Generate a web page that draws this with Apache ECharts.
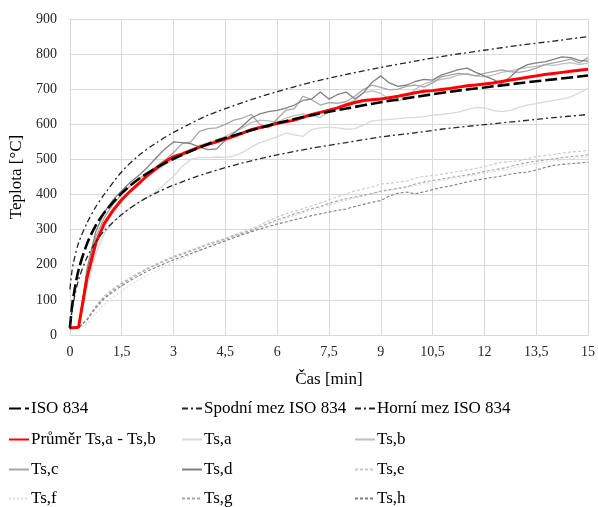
<!DOCTYPE html>
<html>
<head>
<meta charset="utf-8">
<script src="https://cdn.jsdelivr.net/npm/echarts@6/dist/echarts.min.js"></script>
<style>
html,body{margin:0;padding:0;background:#fff;}
#chart{width:598px;height:507px;}
</style>
</head>
<body>
<div id="chart"></div>
<script>
// Reference curves time grid (min)
const tRef = [0, 0.05, 0.1, 0.25, 0.5, 0.75, 1, 1.5, 2, 2.5, 3, 4, 5, 6, 7, 8, 9, 10, 11, 12, 13, 14, 15];
const iso834 = [20, 70, 108, 185, 261, 312, 349, 404, 445, 476, 502, 544, 576, 603, 626, 645, 663, 678, 693, 705, 717, 728, 739];
const lowerLimit = [17, 60, 92, 157, 222, 265, 297, 343, 378, 405, 427, 462, 490, 513, 532, 548, 564, 576, 589, 599, 609, 619, 628];
const upperLimit = [130, 175, 205, 262, 320, 365, 401, 465, 512, 547, 577, 626, 662, 693, 720, 742, 762, 780, 797, 811, 825, 837, 850];

// Measured time grid (min), step 0.25
const tMeas = [0,0.25,0.5,0.75,1,1.25,1.5,1.75,2,2.25,2.5,2.75,3,3.25,3.5,3.75,4,4.25,4.5,4.75,5,5.25,5.5,5.75,6,6.25,6.5,6.75,7,7.25,7.5,7.75,8,8.25,8.5,8.75,9,9.25,9.5,9.75,10,10.25,10.5,10.75,11,11.25,11.5,11.75,12,12.25,12.5,12.75,13,13.25,13.5,13.75,14,14.25,14.5,14.75,15];

const prumer = [20,22,165,262,318,355,385,410,432,455,475,493,508,516,526,535,543,550,558,566,575,585,591,596,603,607,612,620,628,634,640,647,655,662,668,670,672,676,680,685,690,694,696,699,702,706,710,712,715,718,722,726,730,734,738,742,745,748,751,754,757];
const tsA = [20,21,140,230,290,320,345,362,378,392,410,430,452,480,500,506,505,507,506,510,520,535,548,556,564,575,570,566,585,590,592,590,586,588,598,610,612,614,616,619,620,622,626,628,631,635,642,648,647,640,636,640,648,655,659,664,668,672,678,690,702];
const tsB = [20,21,160,262,322,360,390,412,435,452,468,485,500,510,525,540,548,556,565,578,590,605,612,610,606,618,625,630,625,620,635,650,660,668,690,695,688,672,665,680,700,715,722,728,732,740,745,738,735,740,748,752,758,762,765,770,768,772,776,770,775];
const tsC = [20,21,175,280,335,372,400,425,445,462,480,498,520,545,550,580,588,590,600,612,618,628,600,590,615,640,645,680,670,655,662,660,665,680,700,712,705,698,700,708,712,706,718,735,740,745,742,738,745,750,755,750,748,752,760,770,775,780,786,775,790];
const tsD = [20,22,190,295,350,385,411,435,455,478,505,530,550,548,545,535,528,530,555,575,595,618,630,636,640,646,655,668,672,692,672,685,692,672,690,720,738,718,708,712,722,728,726,740,748,756,760,748,738,728,716,735,758,770,775,778,785,792,790,782,780];
const tsE = [20,20,47,84,112,132,149,164,178,191,203,214,224,233,242,251,260,268,276,285,294,303,313,325,336,345,352,360,368,376,385,394,402,410,416,422,430,432,435,438,447,452,454,458,462,466,470,474,480,486,492,494,496,502,508,511,514,518,521,523,526];
const tsF = [20,20,32,62,88,108,126,142,157,171,184,196,207,218,229,240,251,261,270,280,289,297,306,315,324,332,340,348,356,363,370,377,384,390,396,402,408,412,416,420,426,431,436,440,444,448,452,456,461,465,469,474,479,484,488,492,496,499,502,505,507];
const tsG = [20,20,45,80,108,128,145,160,175,188,200,211,221,230,239,248,257,265,273,282,290,298,308,318,328,336,345,352,360,366,375,382,388,393,398,403,410,414,418,422,430,436,440,444,448,452,456,460,466,470,474,480,486,491,495,498,502,505,508,510,513];
const tsH = [20,20,43,77,104,123,140,155,169,182,193,204,214,223,232,241,250,259,268,277,286,294,302,309,316,322,328,334,340,345,350,355,359,366,372,378,383,396,404,407,402,408,414,420,424,430,436,441,445,449,453,458,462,464,470,477,483,486,488,490,492];

// Tick labels
const xTickLabels = ['0','1,5','3','4,5','6','7,5','9','10,5','12','13,5','15'];
const yTickLabels = ['0','100','200','300','400','500','600','700','800','900'];

// Legend layout (rows of names)
const legendRows = [
  ['ISO 834', 'Spodní mez ISO 834', 'Horní mez ISO 834'],
  ['Průměr Ts,a - Ts,b', 'Ts,a', 'Ts,b'],
  ['Ts,c', 'Ts,d', 'Ts,e'],
  ['Ts,f', 'Ts,g', 'Ts,h']
];

const pairs = (ts, vs) => ts.map((t, i) => [t, vs[i]]);
const FONT = '"Liberation Serif", "Times New Roman", serif';

const gray = (name, color, vals, type, width, z) => ({
  name, type: 'line', data: pairs(tMeas, vals), symbol: 'none', z: z,
  lineStyle: { color, width, type }, itemStyle: { color }
});

const series = [
  { name: 'ISO 834', type: 'line', data: pairs(tRef, iso834), smooth: 0.3, symbol: 'none', z: 5,
    lineStyle: { color: '#000', width: 2.6, type: [12, 4] }, itemStyle: { color: '#000' } },
  { name: 'Spodní mez ISO 834', type: 'line', data: pairs(tRef, lowerLimit), smooth: 0.3, symbol: 'none', z: 5,
    lineStyle: { color: '#262626', width: 1.3, type: [6, 3, 2, 3] }, itemStyle: { color: '#262626' } },
  { name: 'Horní mez ISO 834', type: 'line', data: pairs(tRef, upperLimit), smooth: 0.3, symbol: 'none', z: 5,
    lineStyle: { color: '#262626', width: 1.3, type: [6, 3, 2, 3] }, itemStyle: { color: '#262626' } },
  { name: 'Průměr Ts,a - Ts,b', type: 'line', data: pairs(tMeas, prumer), symbol: 'none', z: 4,
    lineStyle: { color: '#ff0000', width: 3 }, itemStyle: { color: '#ff0000' } },
  gray('Ts,a', '#d9d9d9', tsA, 'solid', 1.3, 2),
  gray('Ts,b', '#bfbfbf', tsB, 'solid', 1.3, 2),
  gray('Ts,c', '#a6a6a6', tsC, 'solid', 1.3, 2),
  gray('Ts,d', '#808080', tsD, 'solid', 1.3, 2),
  gray('Ts,e', '#c8c8c8', tsE, [3, 2], 1.1, 2),
  gray('Ts,f', '#d9d9d9', tsF, [2, 2], 1.1, 2),
  gray('Ts,g', '#a6a6a6', tsG, [3, 2], 1.1, 2),
  gray('Ts,h', '#7f7f7f', tsH, [3, 2], 1.1, 2)
];

const colLeft = [8, 181, 354];
const rowCenter = [408, 439, 469, 498];
const legends = [];
legendRows.forEach((row, r) => row.forEach((name, c) => {
  legends.push({
    orient: 'horizontal', left: colLeft[c], top: rowCenter[r] - 8, padding: 0,
    itemWidth: 20, itemHeight: 14, itemGap: 0, selectedMode: false,
    itemStyle: { opacity: 0, borderWidth: 0 },
    textStyle: { fontFamily: FONT, fontSize: 17, color: '#000', padding: [0, 0, 0, -3] },
    data: [name]
  });
}));

const chart = echarts.init(document.getElementById('chart'), null, { renderer: 'canvas' });
chart.setOption({
  animation: false,
  backgroundColor: '#fff',
  grid: { left: 69, right: 9, top: 19, bottom: 172 },
  xAxis: {
    type: 'value', min: 0, max: 15, interval: 1.5,
    name: 'Čas [min]', nameLocation: 'middle', nameGap: 36,
    nameTextStyle: { fontFamily: FONT, fontSize: 17, color: '#000' },
    axisLine: { show: true, lineStyle: { color: '#d9d9d9', width: 1 } },
    axisTick: { show: false },
    axisLabel: { fontFamily: FONT, fontSize: 14, color: '#262626', margin: 10,
      formatter: (v) => xTickLabels[Math.round(v / 1.5)] },
    splitLine: { show: true, lineStyle: { color: '#d9d9d9', width: 1 } }
  },
  yAxis: {
    type: 'value', min: 0, max: 900, interval: 100,
    name: 'Teplota [°C]', nameLocation: 'middle', nameGap: 42, nameRotate: 90,
    nameTextStyle: { fontFamily: FONT, fontSize: 17, color: '#000' },
    axisLine: { show: true, lineStyle: { color: '#d9d9d9', width: 1 } },
    axisTick: { show: false },
    axisLabel: { fontFamily: FONT, fontSize: 14, color: '#262626', margin: 13,
      formatter: (v) => yTickLabels[Math.round(v / 100)] },
    splitLine: { show: true, lineStyle: { color: '#d9d9d9', width: 1 } }
  },
  legend: legends,
  series: series
});
</script>
</body>
</html>
